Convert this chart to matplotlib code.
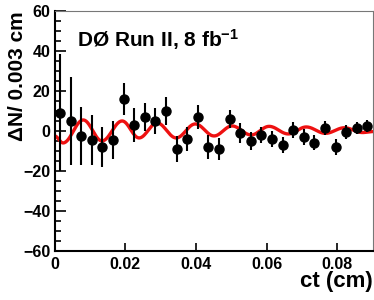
import numpy as np
import matplotlib
matplotlib.use("Agg")
import matplotlib.pyplot as plt
from matplotlib.ticker import MultipleLocator

plt.rcParams['font.family'] = ['Liberation Sans', 'DejaVu Sans']
plt.rcParams['font.weight'] = 'bold'
plt.rcParams['mathtext.fontset'] = 'custom'
plt.rcParams['mathtext.rm'] = 'Liberation Sans:bold'
plt.rcParams['mathtext.bf'] = 'Liberation Sans:bold'
plt.rcParams['mathtext.it'] = 'Liberation Sans:bold'
plt.rcParams['axes.unicode_minus'] = True

# Data points (bin centres in cm, counts difference, errors)
ct_bins = [0.0015, 0.0045, 0.0075, 0.0105, 0.0135, 0.0165, 0.0195, 0.0225,
           0.0255, 0.0285, 0.0315, 0.0345, 0.0375, 0.0405, 0.0435, 0.0465,
           0.0495, 0.0525, 0.0555, 0.0585, 0.0615, 0.0645, 0.0675, 0.0705,
           0.0735, 0.0765, 0.0795, 0.0825, 0.0855, 0.0885]
dN = [9, 5, -2.5, -4.5, -8, -4.5, 16, 3, 7, 5, 10, -9, -4, 7, -8, -9,
      6, -1.2, -5, -2, -4, -7, 0.5, -2.8, -5.8, 1.3, -8, -0.3, 1.3, 2.5]
dN_err = [29.3, 22, 14.5, 12.5, 10, 9.5, 8, 8.5, 7, 6.5, 6.8, 6.5, 6, 5.8,
          5.8, 5.5, 4.7, 5, 4.5, 4.2, 4, 4, 4, 4, 3.8, 3.5, 3.8, 3.5, 3, 3]

# Fit curve: extrema (ct, value)
curve_ct = [0.0, 0.0024, 0.0081, 0.0134, 0.0191, 0.0239, 0.0290, 0.0344,
            0.0398, 0.0451, 0.0502, 0.0556, 0.0607, 0.0661, 0.0712, 0.0766,
            0.0820, 0.0871, 0.0900]
curve_val = [-2.5, -6.0, 5.5, -5.0, 5.0, -3.5, 4.0, -3.5, 3.5, -2.5, 2.5,
             -2.0, 2.3, -1.5, 2.0, -1.2, 1.6, -0.8, -0.3]

x_ticks = [0, 0.02, 0.04, 0.06, 0.08]
x_ticklabels = ['0', '0.02', '0.04', '0.06', '0.08']
y_ticks = [-60, -40, -20, 0, 20, 40, 60]

fig = plt.figure(figsize=(3.74, 3.0), dpi=100)
ax = fig.add_axes([0.146, 0.164, 0.8505, 0.799])

# smooth curve between extrema (half-cosine shape)
xs, ys = [], []
for i in range(len(curve_ct) - 1):
    x0, x1 = curve_ct[i], curve_ct[i + 1]
    y0, y1 = curve_val[i], curve_val[i + 1]
    s = np.linspace(0, 1, 30, endpoint=False)
    xs.extend(x0 + (x1 - x0) * s)
    ys.extend(y0 + (y1 - y0) * (1 - np.cos(np.pi * s)) / 2)
xs.append(curve_ct[-1]); ys.append(curve_val[-1])
ax.plot(xs, ys, color='#ee1111', lw=2.4, zorder=2)

ax.errorbar(ct_bins, dN, yerr=dN_err, fmt='o', color='black', ms=6.5,
            elinewidth=1.5, capsize=0, zorder=3)

ax.set_xlim(0, 0.09)
ax.set_ylim(-60, 60)
ax.set_xticks(x_ticks)
ax.set_xticklabels(x_ticklabels)
ax.set_yticks(y_ticks)
ax.yaxis.set_minor_locator(MultipleLocator(5))
ax.tick_params(axis='both', which='both', direction='in', top=False, right=False,
               labelsize=11.5, width=1.2)
ax.tick_params(axis='y', which='major', length=8, pad=3)
ax.tick_params(axis='y', which='minor', length=4)
ax.tick_params(axis='x', which='major', length=6, pad=4.5)
for lab in ax.get_xticklabels() + ax.get_yticklabels():
    lab.set_fontweight('bold')

for sp in ['left', 'bottom']:
    ax.spines[sp].set_linewidth(1.5)
for sp in ['top', 'right']:
    ax.spines[sp].set_linewidth(0.8)
    ax.spines[sp].set_color('#777777')

ax.set_ylabel('ΔN/ 0.003 cm', fontsize=15, fontweight='bold', loc='top')
ax.yaxis.set_label_coords(-0.088, 1.0)
ax.set_xlabel('ct (cm)', fontsize=16, fontweight='bold', loc='right', labelpad=-1)

ax.text(0.07, 0.88, r'DØ Run II, 8 fb$^{-1}$', transform=ax.transAxes,
        fontsize=15, fontweight='bold', va='center', ha='left')

fig.savefig('out.png', dpi=100)
